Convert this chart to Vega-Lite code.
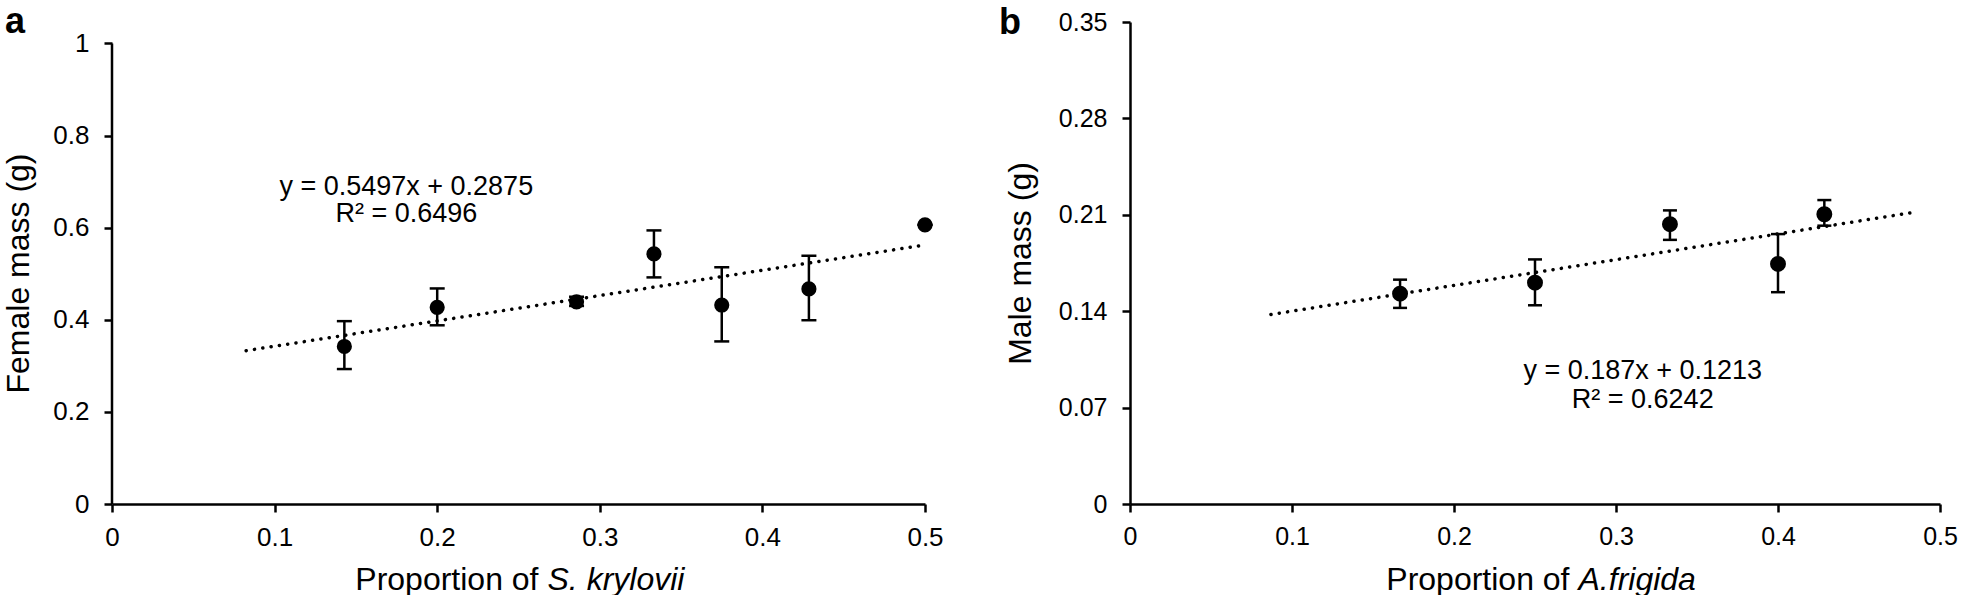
{
  "$schema": "https://vega.github.io/schema/vega-lite/v6.json",
  "background": "white",
  "padding": {"left": 2, "top": 4, "right": 0, "bottom": 0},
  "columns": 2,
  "align": "none",
  "spacing": 55,
  "datasets": {
    "ptsA": [
      {"x": 0.1429, "y": 0.342, "lo": 0.293, "hi": 0.397},
      {"x": 0.2, "y": 0.427, "lo": 0.388, "hi": 0.468},
      {"x": 0.2857, "y": 0.439, "lo": 0.43, "hi": 0.45},
      {"x": 0.3333, "y": 0.543, "lo": 0.492, "hi": 0.594},
      {"x": 0.375, "y": 0.432, "lo": 0.353, "hi": 0.514},
      {"x": 0.4286, "y": 0.467, "lo": 0.399, "hi": 0.539},
      {"x": 0.5, "y": 0.606, "lo": 0.606, "hi": 0.606}
    ],
    "axisA": [{"x": 0, "y": 0, "y2": 1}],
    "lineA": [{"x": 0.0825, "y": 0.3329}, {"x": 0.5, "y": 0.5624}],
    "annA": [
      {"x": 0.181, "y": 0.67, "label": "y = 0.5497x + 0.2875"},
      {"x": 0.181, "y": 0.612, "label": "R² = 0.6496"}
    ],
    "ptsB": [
      {"x": 0.1667, "y": 0.1527, "lo": 0.1424, "hi": 0.1629},
      {"x": 0.25, "y": 0.1607, "lo": 0.1443, "hi": 0.1776},
      {"x": 0.3333, "y": 0.2032, "lo": 0.1918, "hi": 0.2132},
      {"x": 0.4, "y": 0.1743, "lo": 0.1538, "hi": 0.196},
      {"x": 0.4286, "y": 0.2104, "lo": 0.2021, "hi": 0.2207}
    ],
    "lineB": [{"x": 0.087, "y": 0.1376}, {"x": 0.485, "y": 0.212}],
    "annB": [
      {"x": 0.3165, "y": 0.0908, "label": "y = 0.187x + 0.1213"},
      {"x": 0.3165, "y": 0.07, "label": "R² = 0.6242"}
    ]
  },
  "concat": [
    {
      "width": 813,
      "height": 482,
      "title": {"text": "a", "anchor": "start", "frame": "group", "fontSize": 36, "fontWeight": "bold", "font": "Liberation Sans", "color": "black", "baseline": "alphabetic", "dx": -107, "offset": -47},
      "resolve": {"axis": {"x": "independent"}},
      "layer": [
        {
          "data": {"name": "axisA"},
          "mark": {"type": "rule", "color": "black", "strokeWidth": 2.5},
          "encoding": {
            "x": {"field": "x", "type": "quantitative", "scale": {"domain": [0, 0.5], "nice": false, "zero": false}, "axis": null},
            "y": {"field": "y", "type": "quantitative", "scale": {"domain": [0, 1.0465], "nice": false},
              "axis": {"values": [0, 0.2, 0.4, 0.6, 0.8, 1], "format": "~g", "domain": false, "title": "Female mass (g)", "titleX": -84, "titleY": 251, "titleAngle": 270, "titleAlign": "center", "titleBaseline": "alphabetic", "labelFontSize": 26, "labelPadding": 15}},
            "y2": {"field": "y2"}
          }
        },
        {
          "data": {"name": "lineA"},
          "mark": {"type": "line", "color": "black", "strokeWidth": 3.5, "strokeDash": [0.1, 8.3], "strokeCap": "round"},
          "encoding": {
            "x": {"field": "x", "type": "quantitative", "scale": {"domain": [0, 0.5], "nice": false, "zero": false},
              "axis": {"orient": "bottom", "values": [0, 0.1, 0.2, 0.3, 0.4, 0.5], "format": "~g", "title": "Proportion of", "titleX": 426, "titleY": 85, "titleAlign": "right", "titleBaseline": "alphabetic", "labelFontSize": 26, "labelPadding": 12}},
            "y": {"field": "y", "type": "quantitative", "scale": {"domain": [0, 1.0465], "nice": false},
              "axis": {"values": [0, 0.2, 0.4, 0.6, 0.8, 1], "format": "~g", "domain": false, "title": "Female mass (g)", "titleX": -84, "titleY": 251, "titleAngle": 270, "titleAlign": "center", "titleBaseline": "alphabetic", "labelFontSize": 26, "labelPadding": 15}}
          }
        },
        {
          "data": {"name": "ptsA"},
          "mark": {"type": "rule", "color": "black", "strokeWidth": 2.5},
          "encoding": {
            "x": {"field": "x", "type": "quantitative", "scale": {"domain": [0, 0.5], "nice": false, "zero": false}, "axis": null},
            "y": {"field": "lo", "type": "quantitative", "scale": {"domain": [0, 1.0465], "nice": false},
              "axis": {"values": [0, 0.2, 0.4, 0.6, 0.8, 1], "format": "~g", "domain": false, "title": "Female mass (g)", "titleX": -84, "titleY": 251, "titleAngle": 270, "titleAlign": "center", "titleBaseline": "alphabetic", "labelFontSize": 26, "labelPadding": 15}},
            "y2": {"field": "hi"}
          }
        },
        {
          "data": {"name": "ptsA"},
          "mark": {"type": "tick", "orient": "horizontal", "color": "black", "size": 15, "thickness": 2.5, "opacity": 1},
          "encoding": {
            "x": {"field": "x", "type": "quantitative", "scale": {"domain": [0, 0.5], "nice": false, "zero": false}, "axis": null},
            "y": {"field": "lo", "type": "quantitative", "scale": {"domain": [0, 1.0465], "nice": false},
              "axis": {"values": [0, 0.2, 0.4, 0.6, 0.8, 1], "format": "~g", "domain": false, "title": "Female mass (g)", "titleX": -84, "titleY": 251, "titleAngle": 270, "titleAlign": "center", "titleBaseline": "alphabetic", "labelFontSize": 26, "labelPadding": 15}}
          }
        },
        {
          "data": {"name": "ptsA"},
          "mark": {"type": "tick", "orient": "horizontal", "color": "black", "size": 15, "thickness": 2.5, "opacity": 1},
          "encoding": {
            "x": {"field": "x", "type": "quantitative", "scale": {"domain": [0, 0.5], "nice": false, "zero": false}, "axis": null},
            "y": {"field": "hi", "type": "quantitative", "scale": {"domain": [0, 1.0465], "nice": false},
              "axis": {"values": [0, 0.2, 0.4, 0.6, 0.8, 1], "format": "~g", "domain": false, "title": "Female mass (g)", "titleX": -84, "titleY": 251, "titleAngle": 270, "titleAlign": "center", "titleBaseline": "alphabetic", "labelFontSize": 26, "labelPadding": 15}}
          }
        },
        {
          "data": {"name": "ptsA"},
          "mark": {"type": "point", "shape": "circle", "filled": true, "color": "black", "opacity": 1, "size": 230},
          "encoding": {
            "x": {"field": "x", "type": "quantitative", "scale": {"domain": [0, 0.5], "nice": false, "zero": false}, "axis": null},
            "y": {"field": "y", "type": "quantitative", "scale": {"domain": [0, 1.0465], "nice": false},
              "axis": {"values": [0, 0.2, 0.4, 0.6, 0.8, 1], "format": "~g", "domain": false, "title": "Female mass (g)", "titleX": -84, "titleY": 251, "titleAngle": 270, "titleAlign": "center", "titleBaseline": "alphabetic", "labelFontSize": 26, "labelPadding": 15}}
          }
        },
        {
          "data": {"name": "annA"},
          "mark": {"type": "text", "font": "Liberation Sans", "fontSize": 27, "color": "black", "align": "center", "baseline": "alphabetic"},
          "encoding": {
            "text": {"field": "label"},
            "x": {"field": "x", "type": "quantitative", "scale": {"domain": [0, 0.5], "nice": false, "zero": false},
              "axis": {"orient": "bottom", "labels": false, "ticks": false, "domain": false, "title": "S. krylovii", "titleFontStyle": "italic", "titleX": 435, "titleY": 85, "titleAlign": "left", "titleBaseline": "alphabetic"}},
            "y": {"field": "y", "type": "quantitative", "scale": {"domain": [0, 1.0465], "nice": false},
              "axis": {"values": [0, 0.2, 0.4, 0.6, 0.8, 1], "format": "~g", "domain": false, "title": "Female mass (g)", "titleX": -84, "titleY": 251, "titleAngle": 270, "titleAlign": "center", "titleBaseline": "alphabetic", "labelFontSize": 26, "labelPadding": 15}}
          }
        }
      ]
    },
    {
      "width": 810,
      "height": 482,
      "title": {"text": "b", "anchor": "start", "frame": "group", "fontSize": 36, "fontWeight": "bold", "font": "Liberation Sans", "color": "black", "baseline": "alphabetic", "dx": -131, "offset": -60},
      "resolve": {"axis": {"x": "independent"}},
      "layer": [
        {
          "data": {"name": "lineB"},
          "mark": {"type": "line", "color": "black", "strokeWidth": 3.5, "strokeDash": [0.1, 8.3], "strokeCap": "round"},
          "encoding": {
            "x": {"field": "x", "type": "quantitative", "scale": {"domain": [0, 0.5], "nice": false, "zero": false},
              "axis": {"orient": "bottom", "values": [0, 0.1, 0.2, 0.3, 0.4, 0.5], "format": "~g", "title": "Proportion of", "titleX": 439, "titleY": 85, "titleAlign": "right", "titleBaseline": "alphabetic", "labelFontSize": 25, "labelPadding": 12}},
            "y": {"field": "y", "type": "quantitative", "scale": {"domain": [0, 0.35], "nice": false},
              "axis": {"values": [0, 0.07, 0.14, 0.21, 0.28, 0.35], "format": "~g", "title": "Male mass (g)", "titleX": -100, "titleAngle": 270, "titleAlign": "center", "titleBaseline": "alphabetic", "labelFontSize": 25, "labelPadding": 15}}
          }
        },
        {
          "data": {"name": "ptsB"},
          "mark": {"type": "rule", "color": "black", "strokeWidth": 2.5},
          "encoding": {
            "x": {"field": "x", "type": "quantitative", "scale": {"domain": [0, 0.5], "nice": false, "zero": false}, "axis": null},
            "y": {"field": "lo", "type": "quantitative", "scale": {"domain": [0, 0.35], "nice": false},
              "axis": {"values": [0, 0.07, 0.14, 0.21, 0.28, 0.35], "format": "~g", "title": "Male mass (g)", "titleX": -100, "titleAngle": 270, "titleAlign": "center", "titleBaseline": "alphabetic", "labelFontSize": 25, "labelPadding": 15}},
            "y2": {"field": "hi"}
          }
        },
        {
          "data": {"name": "ptsB"},
          "mark": {"type": "tick", "orient": "horizontal", "color": "black", "size": 14, "thickness": 2.5, "opacity": 1},
          "encoding": {
            "x": {"field": "x", "type": "quantitative", "scale": {"domain": [0, 0.5], "nice": false, "zero": false}, "axis": null},
            "y": {"field": "lo", "type": "quantitative", "scale": {"domain": [0, 0.35], "nice": false},
              "axis": {"values": [0, 0.07, 0.14, 0.21, 0.28, 0.35], "format": "~g", "title": "Male mass (g)", "titleX": -100, "titleAngle": 270, "titleAlign": "center", "titleBaseline": "alphabetic", "labelFontSize": 25, "labelPadding": 15}}
          }
        },
        {
          "data": {"name": "ptsB"},
          "mark": {"type": "tick", "orient": "horizontal", "color": "black", "size": 14, "thickness": 2.5, "opacity": 1},
          "encoding": {
            "x": {"field": "x", "type": "quantitative", "scale": {"domain": [0, 0.5], "nice": false, "zero": false}, "axis": null},
            "y": {"field": "hi", "type": "quantitative", "scale": {"domain": [0, 0.35], "nice": false},
              "axis": {"values": [0, 0.07, 0.14, 0.21, 0.28, 0.35], "format": "~g", "title": "Male mass (g)", "titleX": -100, "titleAngle": 270, "titleAlign": "center", "titleBaseline": "alphabetic", "labelFontSize": 25, "labelPadding": 15}}
          }
        },
        {
          "data": {"name": "ptsB"},
          "mark": {"type": "point", "shape": "circle", "filled": true, "color": "black", "opacity": 1, "size": 254},
          "encoding": {
            "x": {"field": "x", "type": "quantitative", "scale": {"domain": [0, 0.5], "nice": false, "zero": false}, "axis": null},
            "y": {"field": "y", "type": "quantitative", "scale": {"domain": [0, 0.35], "nice": false},
              "axis": {"values": [0, 0.07, 0.14, 0.21, 0.28, 0.35], "format": "~g", "title": "Male mass (g)", "titleX": -100, "titleAngle": 270, "titleAlign": "center", "titleBaseline": "alphabetic", "labelFontSize": 25, "labelPadding": 15}}
          }
        },
        {
          "data": {"name": "annB"},
          "mark": {"type": "text", "font": "Liberation Sans", "fontSize": 27, "color": "black", "align": "center", "baseline": "alphabetic"},
          "encoding": {
            "text": {"field": "label"},
            "x": {"field": "x", "type": "quantitative", "scale": {"domain": [0, 0.5], "nice": false, "zero": false},
              "axis": {"orient": "bottom", "labels": false, "ticks": false, "domain": false, "title": "A.frigida", "titleFontStyle": "italic", "titleX": 448, "titleY": 85, "titleAlign": "left", "titleBaseline": "alphabetic"}},
            "y": {"field": "y", "type": "quantitative", "scale": {"domain": [0, 0.35], "nice": false},
              "axis": {"values": [0, 0.07, 0.14, 0.21, 0.28, 0.35], "format": "~g", "title": "Male mass (g)", "titleX": -100, "titleAngle": 270, "titleAlign": "center", "titleBaseline": "alphabetic", "labelFontSize": 25, "labelPadding": 15}}
          }
        }
      ]
    }
  ],
  "config": {
    "font": "Liberation Sans",
    "view": {"stroke": null},
    "axis": {
      "grid": false,
      "domainColor": "black",
      "domainWidth": 2.5,
      "tickColor": "black",
      "tickWidth": 2.5,
      "tickSize": 8,
      "labelFont": "Liberation Sans",
      "labelColor": "black",
      "labelFlush": false,
      "labelOverlap": false,
      "titleFont": "Liberation Sans",
      "titleColor": "black",
      "titleFontWeight": "normal",
      "titleFontSize": 32
    }
  }
}
